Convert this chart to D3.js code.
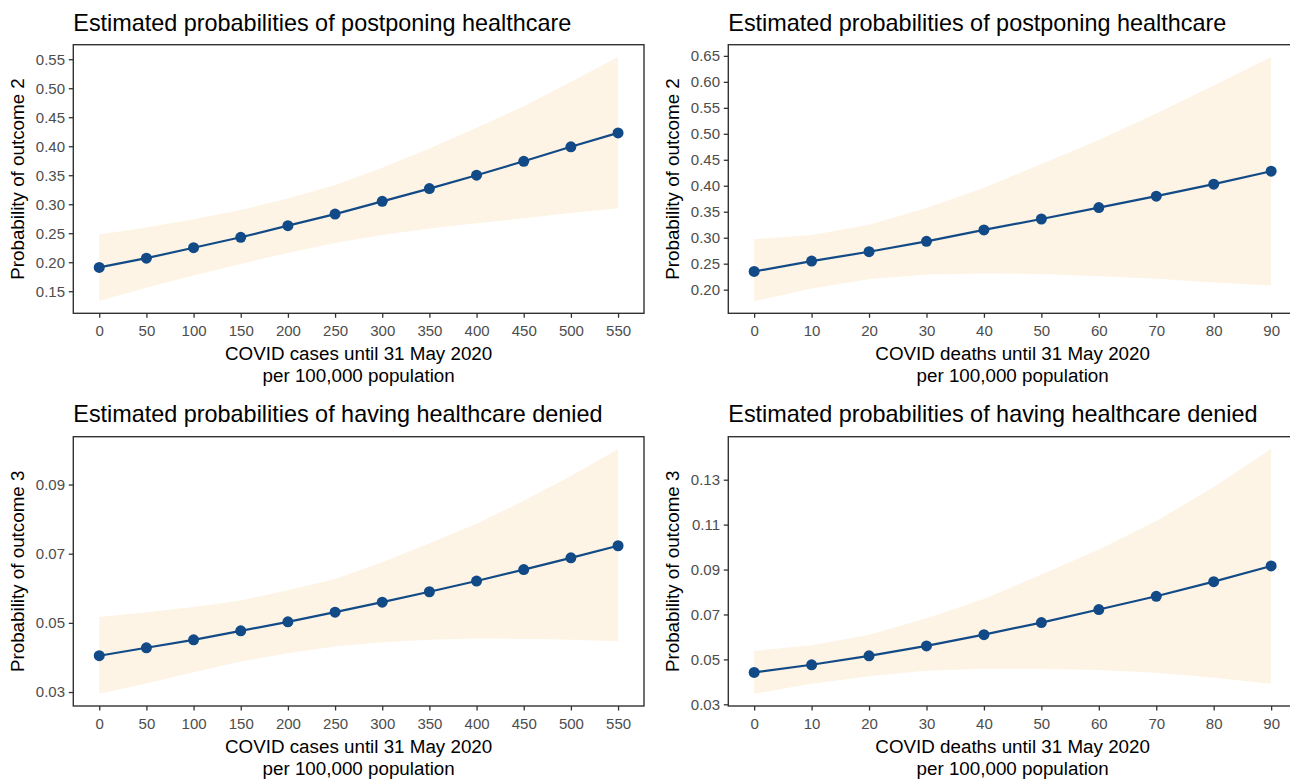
<!DOCTYPE html>
<html>
<head>
<meta charset="utf-8">
<script src="https://cdn.jsdelivr.net/npm/d3@7"></script>
<style>
  html, body { margin: 0; padding: 0; background: #fff; overflow: hidden; }
  svg { display: block; font-family: "Liberation Sans", Arial, sans-serif; }
</style>
</head>
<body>
<svg id="chart" width="1290" height="779"></svg>
<script>
// ---------- data ----------
const casesX  = [0, 50, 100, 150, 200, 250, 300, 350, 400, 450, 500, 550];
const deathsX = [0, 10, 20, 30, 40, 50, 60, 70, 80, 90];

// Outcome 2 (postponing healthcare) vs cases
const postponeCasesFit = [0.191, 0.207, 0.225, 0.243, 0.263, 0.283, 0.305, 0.327, 0.350, 0.374, 0.399, 0.423];
const postponeCasesLo  = [0.133, 0.156, 0.177, 0.197, 0.216, 0.233, 0.247, 0.258, 0.267, 0.276, 0.285, 0.293];
const postponeCasesHi  = [0.248, 0.260, 0.274, 0.290, 0.310, 0.333, 0.363, 0.396, 0.432, 0.469, 0.511, 0.554];

// Outcome 2 (postponing healthcare) vs deaths
const postponeDeathsFit = [0.235, 0.255, 0.273, 0.293, 0.315, 0.336, 0.358, 0.380, 0.403, 0.428];
const postponeDeathsLo  = [0.178, 0.202, 0.220, 0.229, 0.231, 0.230, 0.226, 0.221, 0.214, 0.208];
const postponeDeathsHi  = [0.297, 0.305, 0.325, 0.357, 0.396, 0.442, 0.488, 0.539, 0.593, 0.648];

// Outcome 3 (healthcare denied) vs cases
const deniedCasesFit = [0.0405, 0.0428, 0.0451, 0.0477, 0.0503, 0.0531, 0.0560, 0.0590, 0.0621, 0.0654, 0.0688, 0.0723];
const deniedCasesLo  = [0.0295, 0.0325, 0.0357, 0.0388, 0.0412, 0.0432, 0.0444, 0.0451, 0.0455, 0.0454, 0.0451, 0.0447];
const deniedCasesHi  = [0.0517, 0.0531, 0.0546, 0.0565, 0.0594, 0.0627, 0.0675, 0.0730, 0.0787, 0.0853, 0.0925, 0.1003];

// Outcome 3 (healthcare denied) vs deaths
const deniedDeathsFit = [0.0442, 0.0476, 0.0516, 0.0560, 0.0610, 0.0664, 0.0722, 0.0781, 0.0846, 0.0916];
const deniedDeathsLo  = [0.0347, 0.0392, 0.0425, 0.0450, 0.0458, 0.0457, 0.0453, 0.0440, 0.0418, 0.0392];
const deniedDeathsHi  = [0.0538, 0.0563, 0.0610, 0.0683, 0.0769, 0.0878, 0.0989, 0.1116, 0.1268, 0.1437];

// tick labels
const yTicksPostponeCases  = [0.15, 0.20, 0.25, 0.30, 0.35, 0.40, 0.45, 0.50, 0.55];
const yTicksPostponeDeaths = [0.20, 0.25, 0.30, 0.35, 0.40, 0.45, 0.50, 0.55, 0.60, 0.65];
const yTicksDeniedCases    = [0.03, 0.05, 0.07, 0.09];
const yTicksDeniedDeaths   = [0.03, 0.05, 0.07, 0.09, 0.11, 0.13];

const titlePostpone = "Estimated probabilities of postponing healthcare";
const titleDenied   = "Estimated probabilities of having healthcare denied";
const yLabel2 = "Probability of outcome 2";
const yLabel3 = "Probability of outcome 3";
const xLabelCases  = ["COVID cases until 31 May 2020", "per 100,000 population"];
const xLabelDeaths = ["COVID deaths until 31 May 2020", "per 100,000 population"];

// ---------- layout ----------
const panels = [
  { x: casesX,  fit: postponeCasesFit,  lo: postponeCasesLo,  hi: postponeCasesHi,  yTicks: yTicksPostponeCases,  title: titlePostpone, yLab: yLabel2, xLab: xLabelCases,
    box: { l: 73.3, r: 644, t: 44.7, b: 313.3 }, titleY: 30.8 },
  { x: deathsX, fit: postponeDeathsFit, lo: postponeDeathsLo, hi: postponeDeathsHi, yTicks: yTicksPostponeDeaths, title: titlePostpone, yLab: yLabel2, xLab: xLabelDeaths,
    box: { l: 728.3, r: 1297, t: 44.7, b: 313.3 }, titleY: 30.8 },
  { x: casesX,  fit: deniedCasesFit,    lo: deniedCasesLo,    hi: deniedCasesHi,    yTicks: yTicksDeniedCases,    title: titleDenied,   yLab: yLabel3, xLab: xLabelCases,
    box: { l: 73.3, r: 644, t: 436.7, b: 706 }, titleY: 421.5 },
  { x: deathsX, fit: deniedDeathsFit,   lo: deniedDeathsLo,   hi: deniedDeathsHi,   yTicks: yTicksDeniedDeaths,   title: titleDenied,   yLab: yLabel3, xLab: xLabelDeaths,
    box: { l: 728.3, r: 1297, t: 436.7, b: 706 }, titleY: 421.5 }
];

const svg = d3.select("#chart");
const navy = "#114A86";
const band = "#FEF4E5";
const axisCol = "#333333";
const tickTextCol = "#4D4D4D";
const fontFam = '"Liberation Sans", Arial, sans-serif';

function expand(ext) {
  const r = ext[1] - ext[0];
  return [ext[0] - 0.05 * r, ext[1] + 0.05 * r];
}

panels.forEach(p => {
  const b = p.box;
  const xs = d3.scaleLinear().domain(expand(d3.extent(p.x))).range([b.l, b.r]);
  const ys = d3.scaleLinear().domain(expand([d3.min(p.lo), d3.max(p.hi)])).range([b.b, b.t]);
  const g = svg.append("g");

  const rows = p.x.map((xv, i) => ({ x: xv, fit: p.fit[i], lo: p.lo[i], hi: p.hi[i] }));

  // ribbon
  g.append("path")
    .datum(rows)
    .attr("fill", band)
    .attr("d", d3.area().x(d => xs(d.x)).y0(d => ys(d.lo)).y1(d => ys(d.hi)));

  // line
  g.append("path")
    .datum(rows)
    .attr("fill", "none")
    .attr("stroke", navy)
    .attr("stroke-width", 2.2)
    .attr("d", d3.line().x(d => xs(d.x)).y(d => ys(d.fit)));

  // points
  g.selectAll("circle.pt").data(rows).join("circle")
    .attr("class", "pt")
    .attr("cx", d => xs(d.x))
    .attr("cy", d => ys(d.fit))
    .attr("r", 5.5)
    .attr("fill", navy);

  // border
  g.append("rect")
    .attr("x", b.l).attr("y", b.t)
    .attr("width", b.r - b.l).attr("height", b.b - b.t)
    .attr("fill", "none")
    .attr("stroke", axisCol)
    .attr("stroke-width", 1.4);

  // x axis
  const xAxis = d3.axisBottom(xs).tickValues(p.x).tickSize(4.5).tickPadding(8).tickFormat(d3.format("d"));
  const gx = g.append("g").attr("transform", `translate(0,${b.b})`).call(xAxis);
  gx.select(".domain").remove();
  gx.selectAll(".tick line").attr("stroke", axisCol).attr("stroke-width", 1.3);
  gx.selectAll(".tick text").attr("fill", tickTextCol).style("font-size", "15px").style("font-family", fontFam);

  // y axis
  const yAxis = d3.axisLeft(ys).tickValues(p.yTicks).tickSize(4.5).tickPadding(3.8).tickFormat(d3.format(".2f"));
  const gy = g.append("g").attr("transform", `translate(${b.l},0)`).call(yAxis);
  gy.select(".domain").remove();
  gy.selectAll(".tick line").attr("stroke", axisCol).attr("stroke-width", 1.3);
  gy.selectAll(".tick text").attr("fill", tickTextCol).style("font-size", "15px").style("font-family", fontFam);

  // title
  g.append("text")
    .attr("x", b.l)
    .attr("y", p.titleY)
    .attr("fill", "#000")
    .style("font-size", "23.4px")
    .text(p.title);

  // x label
  const cx = (b.l + b.r) / 2;
  p.xLab.forEach((line, i) => {
    g.append("text")
      .attr("x", cx)
      .attr("y", b.b + 47 + i * 22)
      .attr("text-anchor", "middle")
      .attr("fill", "#000")
      .style("font-size", "18.8px")
      .text(line);
  });

  // y label
  const cy = (b.t + b.b) / 2;
  g.append("text")
    .attr("transform", `translate(${b.l - 49},${cy}) rotate(-90)`)
    .attr("text-anchor", "middle")
    .attr("fill", "#000")
    .style("font-size", "18.8px")
    .text(p.yLab);
});
</script>
</body>
</html>
